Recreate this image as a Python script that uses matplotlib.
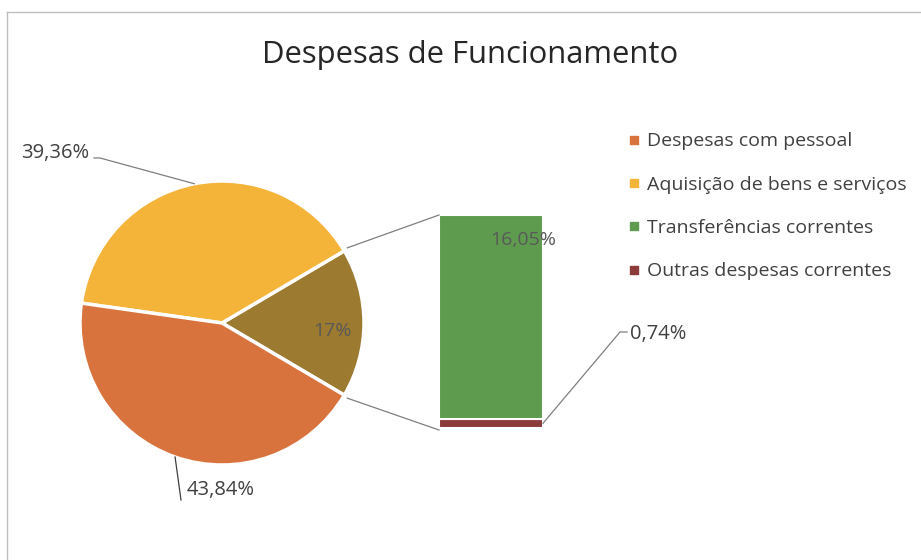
import numpy as np
import matplotlib
matplotlib.use("Agg")
import matplotlib.pyplot as plt
from matplotlib.lines import Line2D

plt.rcParams['font.family'] = ['Open Sans', 'DejaVu Sans']

# data
pie_labels = ['Outras (barra)', 'Aquisição de bens e serviços', 'Despesas com pessoal']
pie_values = [17.0, 39.36, 43.84]
pie_texts = ['17%', '39,36%', '43,84%']
bar_labels = ['Outras despesas correntes', 'Transferências correntes']
bar_values = [0.74, 16.05]
bar_texts = ['0,74%', '16,05%']
legend_labels = ['Despesas com pessoal', 'Aquisição de bens e serviços',
                 'Transferências correntes', 'Outras despesas correntes']

c_pessoal = '#D8733E'
c_aquis = '#F4B43A'
c_other = '#9C7A30'
c_transf = '#5E9B4F'
c_outras = '#8A3B3A'
txt = '#404040'

W, H = 921, 560
fig = plt.figure(figsize=(W / 100, H / 100), dpi=100)
ax = fig.add_axes([0, 0, 1, 1])

# chart frame (top and left edges visible)
ax.plot([7, W], [H - 12, H - 12], color='#BFBFBF', lw=1)
ax.plot([7, 7], [H - 12, 0], color='#BFBFBF', lw=1)

cx, cy, R = 222, 237, 142
start = -pie_values[0] / sum(pie_values) * 360 / 2
wedges, _ = ax.pie(pie_values, colors=[c_other, c_aquis, c_pessoal], startangle=start,
                   counterclock=True, center=(cx, cy), radius=R, frame=True,
                   wedgeprops=dict(edgecolor='white', linewidth=2.5))
ax.set_xlim(0, W)
ax.set_ylim(0, H)
ax.set_aspect('equal')
ax.axis('off')

# bar of "other"
bar_x, bar_w, bar_bottom = 491, 104, 132
scale = 213 / sum(bar_values)
heights = [v * scale for v in bar_values]
bottoms = [bar_bottom, bar_bottom + heights[0]]
ax.bar([bar_x, bar_x], heights, bottom=bottoms, width=bar_w,
       color=[c_outras, c_transf], edgecolor='white', linewidth=1.5)

# connector lines
a1 = np.deg2rad(wedges[0].theta2)
a0 = np.deg2rad(wedges[0].theta1)
ax.plot([cx + R * np.cos(a1) + 3, bar_x - bar_w / 2],
        [cy + R * np.sin(a1) + 3, bottoms[1] + heights[1]], color='#7F7F7F', lw=0.9)
ax.plot([cx + R * np.cos(a0) + 3, bar_x - bar_w / 2],
        [cy + R * np.sin(a0) - 3, bar_bottom - 2], color='#7F7F7F', lw=0.9)

# pie labels
mid = [np.deg2rad((w.theta1 + w.theta2) / 2) for w in wedges]
ax.text(cx + 0.78 * R * np.cos(mid[0]), cy + 0.78 * R * np.sin(mid[0]) - 8, pie_texts[0],
        ha='center', va='center', fontsize=14, color='#595959')
px, py = cx + R * np.cos(mid[1]), cy + R * np.sin(mid[1])
ax.plot([px, 100, 94], [py, H - 158, H - 158], color='#7F7F7F', lw=0.9)
ax.text(89, H - 153, pie_texts[1], ha='right', va='center', fontsize=14.5, color=txt)
px, py = cx + R * np.cos(mid[2]), cy + R * np.sin(mid[2])
ax.plot([px, 181], [py, H - 500], color='#404040', lw=0.9)
ax.text(187, H - 490, pie_texts[2], ha='left', va='center', fontsize=14.5, color=txt)

# bar labels
ax.text(bar_x + 32, bottoms[1] + heights[1] - 25, bar_texts[1], ha='center', va='center',
        fontsize=14, color='#595959')
ax.plot([bar_x + bar_w / 2, 620, 627], [bar_bottom + heights[0] / 2, H - 332, H - 332],
        color='#7F7F7F', lw=0.9)
ax.text(630, H - 334, bar_texts[0], ha='left', va='center', fontsize=14.5, color=txt)

# title
ax.text(470, H - 55, 'Despesas de Funcionamento', ha='center', va='center',
        fontsize=22.3, color='#262626')

# legend
handles = [Line2D([], [], marker='s', ls='none', ms=5.5, color=c)
           for c in [c_pessoal, c_aquis, c_transf, c_outras]]
ax.legend(handles, legend_labels, loc='upper left', bbox_to_anchor=(611 / W, 1 - 115 / H),
          frameon=False, fontsize=14, labelspacing=1.3, handlelength=0.6,
          handletextpad=0.35, labelcolor=txt)

fig.savefig('out.png', dpi=100, facecolor='white')
